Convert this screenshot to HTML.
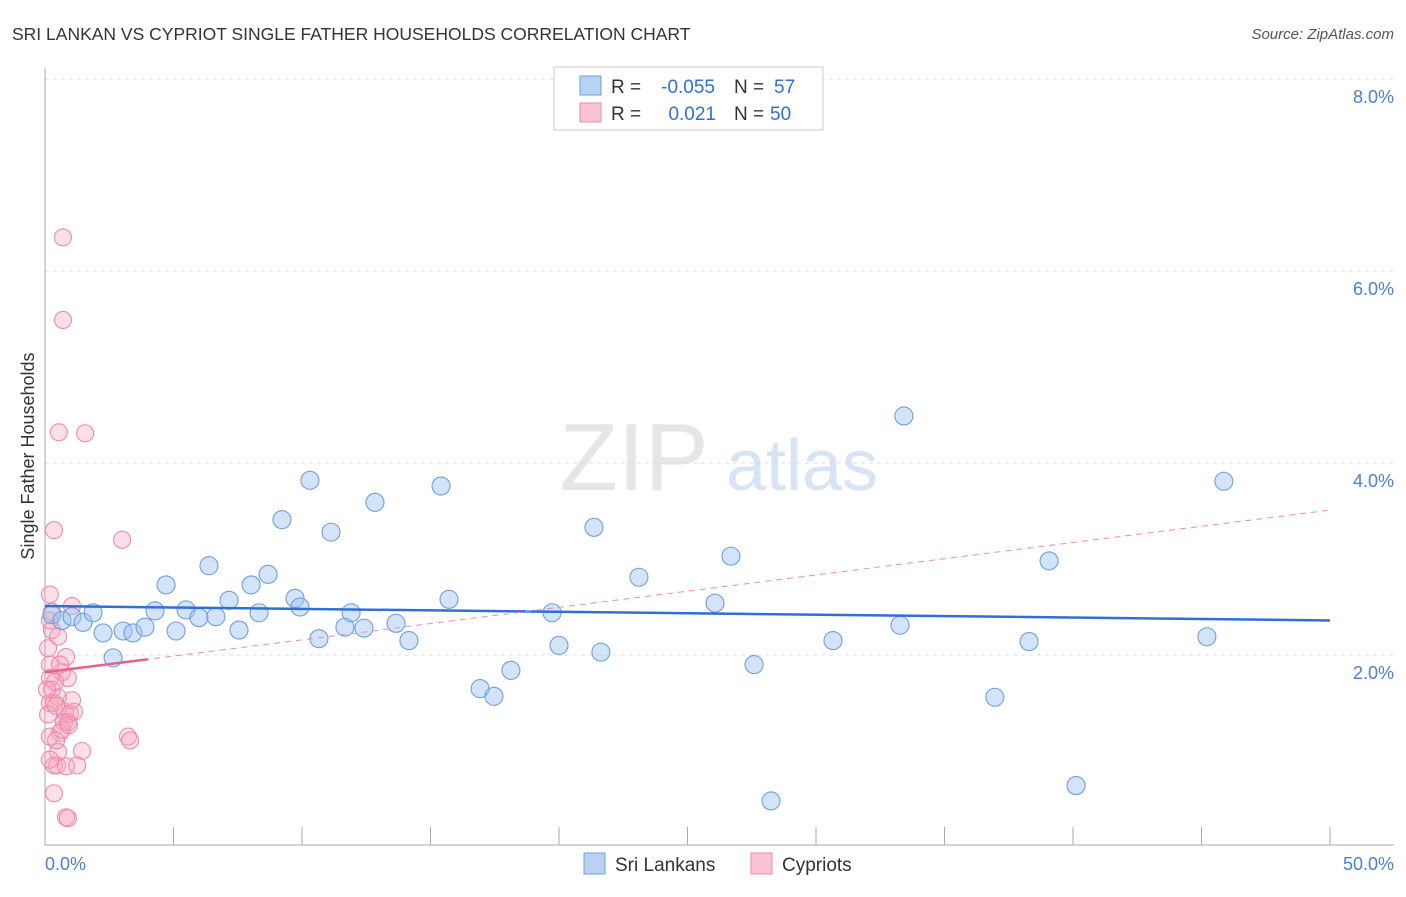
<!DOCTYPE html>
<html><head><meta charset="utf-8"><style>
body{margin:0;background:#fff;font-family:"Liberation Sans",sans-serif;}
svg text{font-family:"Liberation Sans",sans-serif;}
</style></head><body>
<svg id="chart" width="1406" height="892" xmlns="http://www.w3.org/2000/svg">
<text x="12" y="40" font-size="17.5" fill="#333">SRI LANKAN VS CYPRIOT SINGLE FATHER HOUSEHOLDS CORRELATION CHART</text>
<text x="1394" y="39" font-size="15" fill="#555" text-anchor="end" font-style="italic">Source: ZipAtlas.com</text>
<text x="634" y="490" font-size="96" fill="#e6e6e6" font-family="Liberation Serif" text-anchor="middle">ZIP</text>
<text x="802" y="490" font-size="72" fill="#d6e4f6" text-anchor="middle">atlas</text>
<g id="grid"></g><g id="axes"></g><g id="marks"></g>
<text transform="translate(34,456) rotate(-90)" font-size="18" fill="#333" text-anchor="middle">Single Father Households</text>
<text x="45" y="870" font-size="18" fill="#4a7fd4">0.0%</text>
<text x="1394" y="870" font-size="18" fill="#4a7fd4" text-anchor="end">50.0%</text>
<g>
<rect x="554" y="67" width="269" height="63" fill="#fff" stroke="#ccc"/>
<rect x="580" y="76" width="21" height="19" fill="#b8d2f3" stroke="#6c9ee0"/>
<rect x="580" y="103" width="21" height="19" fill="#f9c3d3" stroke="#f08aa8"/>
<text x="611" y="93" font-size="19" fill="#333">R =</text>
<text x="715" y="93" font-size="19" fill="#2f6fd6" text-anchor="end">-0.055</text>
<text x="734" y="93" font-size="19" fill="#333">N =</text>
<text x="774" y="93" font-size="19" fill="#2f6fd6">57</text>
<text x="611" y="120" font-size="19" fill="#333">R =</text>
<text x="716" y="120" font-size="19" fill="#2f6fd6" text-anchor="end">0.021</text>
<text x="734" y="120" font-size="19" fill="#333">N =</text>
<text x="770" y="120" font-size="19" fill="#2f6fd6">50</text>
</g>
<g>
<rect x="584" y="853" width="21" height="21" fill="#b8d2f3" stroke="#6c9ee0"/>
<text x="615" y="871" font-size="19" fill="#333">Sri Lankans</text>
<rect x="751" y="853" width="21" height="21" fill="#f9c3d3" stroke="#f08aa8"/>
<text x="782" y="871" font-size="19" fill="#333">Cypriots</text>
</g>
</svg>
<script>
const yTicks=[2,4,6,8];
const xTicks=[0,5,10,15,20,25,30,35,40,45,50];
const blueX=[0.27,0.66,1.05,1.48,1.87,2.26,2.65,3.04,3.42,3.89,4.28,4.71,5.10,5.49,5.99,6.38,6.65,7.16,7.55,8.02,8.33,8.68,9.22,9.73,9.92,10.31,10.66,11.13,11.67,11.91,12.41,12.84,13.66,14.16,15.41,15.72,16.93,17.47,18.13,19.73,20.00,21.36,21.63,23.11,26.07,26.69,27.59,28.25,30.66,33.27,33.42,36.96,38.29,39.07,40.12,45.21,45.87];
const blueY=[2.42,2.36,2.40,2.34,2.44,2.23,1.97,2.25,2.23,2.29,2.46,2.73,2.25,2.47,2.39,2.93,2.40,2.57,2.26,2.73,2.44,2.84,3.41,2.59,2.50,3.82,2.17,3.28,2.29,2.44,2.28,3.59,2.33,2.15,3.76,2.58,1.65,1.57,1.84,2.44,2.10,3.33,2.03,2.81,2.54,3.03,1.90,0.48,2.15,2.31,4.49,1.56,2.14,2.98,0.64,2.19,3.81];
const pinkX=[0.70,0.70,0.54,1.56,0.35,3.00,1.05,0.19,0.27,0.51,0.82,0.19,0.66,0.19,0.89,0.27,0.51,0.19,0.35,0.78,0.97,0.74,0.89,0.19,0.58,3.23,3.31,0.51,1.44,0.35,0.47,0.82,1.25,0.35,0.82,0.89,0.27,0.12,0.39,0.12,0.43,0.66,0.93,0.19,1.13,0.43,0.08,0.58,0.19,1.05];
const pinkY=[6.35,5.49,4.32,4.31,3.30,3.20,2.51,2.36,2.26,2.19,1.98,1.90,1.82,1.76,1.76,1.64,1.56,1.50,1.50,1.41,1.39,1.30,1.30,1.15,1.19,1.15,1.11,0.99,1.00,0.85,0.85,0.84,0.85,0.56,0.31,0.30,2.45,2.07,1.72,1.38,1.11,1.22,1.27,0.91,1.41,1.47,1.64,1.90,2.63,1.53];
const blueTrend=[2.51,2.36];
const pinkTrend=[1.82,3.51];
const pinkSolidEnd=4;
const X=v=>45+v/50*1285;
const Y=v=>847-v*96;
const NS='http://www.w3.org/2000/svg';
function mk(parent,tag,attrs){const e=document.createElementNS(NS,tag);for(const k in attrs)e.setAttribute(k,attrs[k]);document.getElementById(parent).appendChild(e);return e;}
yTicks.forEach(t=>{
 const l=mk('grid','line',{x1:45,x2:1394,y1:Y(t),y2:Y(t),stroke:'#ddd','stroke-dasharray':'4,4'});
 
 
 const tx=mk('grid','text',{x:1394,y:Y(t)+24,'font-size':18,fill:'#4a7fd4','text-anchor':'end'});
 tx.textContent=t.toFixed(1)+'%';
 
 
});
let a=mk('axes','line',{x1:45,x2:45,y1:68,y2:845,stroke:'#aaa'});


a=mk('axes','line',{x1:45,x2:1394,y1:845,y2:845,stroke:'#aaa'});


xTicks.forEach(t=>{
 const l=mk('axes','line',{x1:X(t),x2:X(t),y1:827,y2:845,stroke:'#aaa'});
 
 
});
pinkX.forEach((v,i)=>{
 const c=mk('marks','circle',{cx:X(v),cy:Y(pinkY[i]),r:8.5,fill:'rgba(245,165,192,0.35)',stroke:'#f08aa8','stroke-width':1.1});
 
 
});
blueX.forEach((v,i)=>{
 const c=mk('marks','circle',{cx:X(v),cy:Y(blueY[i]),r:9,fill:'rgba(160,195,240,0.45)',stroke:'#6c9ee0','stroke-width':1.1});
 
 
});
let t=mk('marks','line',{x1:X(0),x2:X(50),y1:Y(blueTrend[0]),y2:Y(blueTrend[1]),stroke:'#2f6fd6','stroke-width':2.5});


const py=x=>pinkTrend[0]+(pinkTrend[1]-pinkTrend[0])*x/50;
t=mk('marks','line',{x1:X(0),x2:X(50),y1:Y(py(0)),y2:Y(py(50)),stroke:'#f08aa8','stroke-width':1,'stroke-dasharray':'6,5'});


t=mk('marks','line',{x1:X(0),x2:X(pinkSolidEnd),y1:Y(py(0)),y2:Y(py(pinkSolidEnd)),stroke:'#e8608a','stroke-width':2.5});


</script>
</body></html>
